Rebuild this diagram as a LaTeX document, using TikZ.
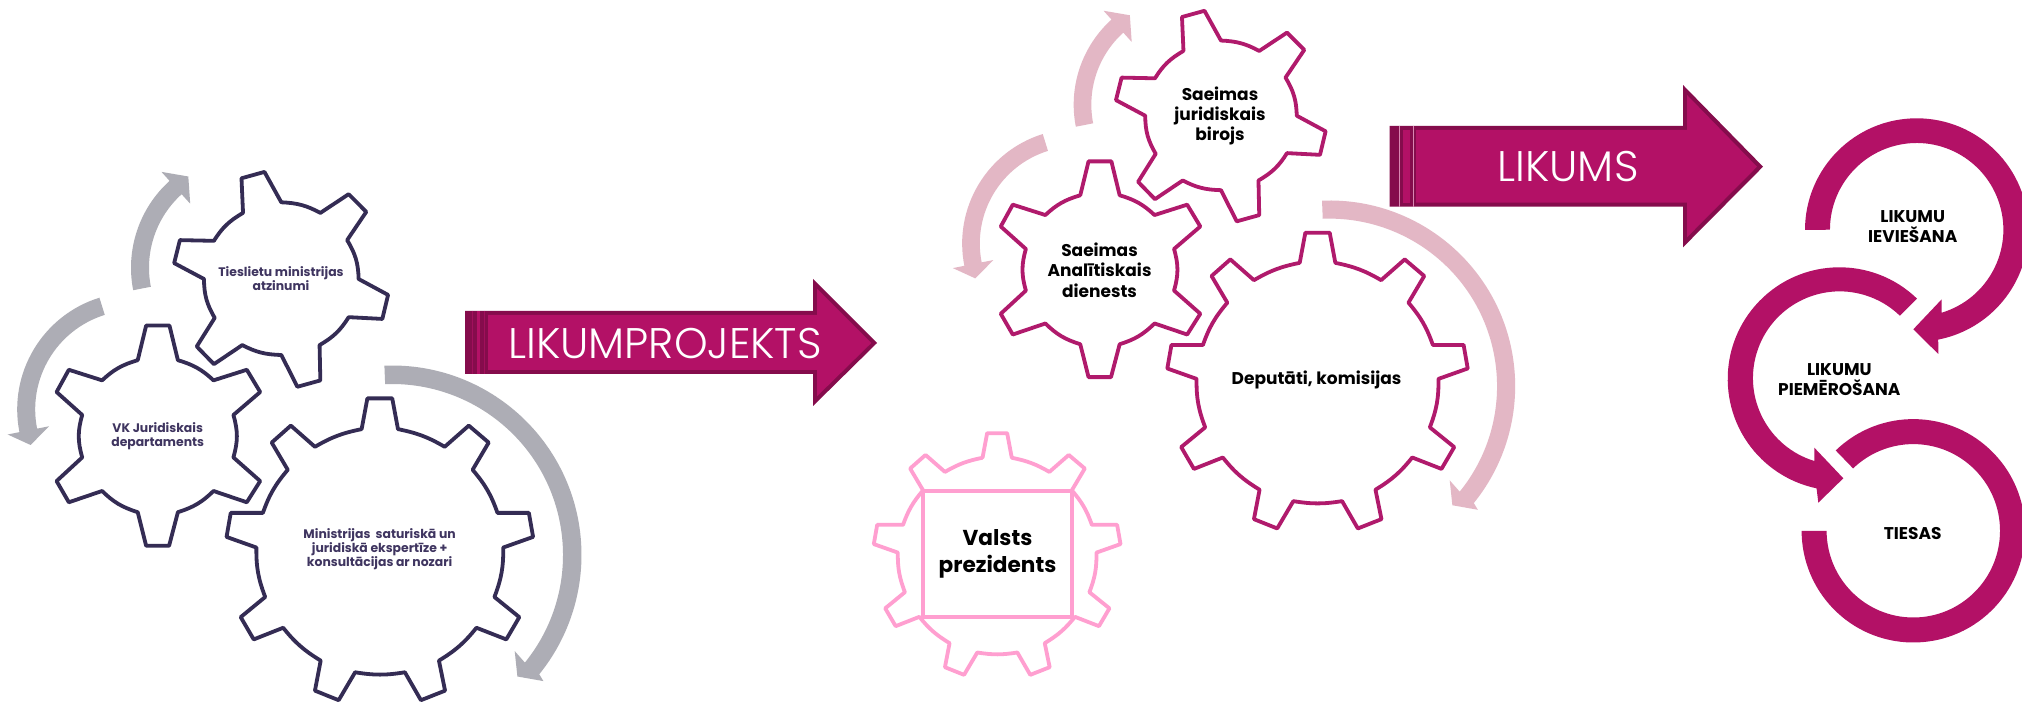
\documentclass[tikz,border=0pt]{standalone}
\usepackage{fontspec}
\setmainfont{Poppins}
\newfontfamily\lightf{Poppins Light}
\definecolor{navy}{HTML}{342C54}
\definecolor{navytext}{HTML}{3F3560}
\definecolor{greyarc}{HTML}{ADADB5}
\definecolor{mag}{HTML}{B31166}
\definecolor{magdark}{HTML}{850C4C}
\definecolor{magline}{HTML}{B01A6C}
\definecolor{pinkarc}{HTML}{E3B7C5}
\definecolor{pinkgear}{HTML}{FF9FD0}
\tikzset{
 gearpath/.style={line width=1.9pt,line join=round,fill=none},
 lab/.style={align=center,font=\bfseries\fontsize{6.2}{7}\selectfont,text=navytext,inner sep=0pt},
 labb/.style={align=center,font=\bfseries\fontsize{8.5}{10.2}\selectfont,text=black,inner sep=0pt},
 labc/.style={align=center,font=\bfseries\fontsize{10.8}{13.2}\selectfont,text=black,inner sep=0pt},
 labr/.style={align=center,font=\bfseries\fontsize{8.5}{10}\selectfont,text=black,inner sep=0pt},
 banner/.style={font=\lightf\fontsize{21.4}{21.4}\selectfont,text=white,inner sep=0pt},
 gsc/.style={xscale=.3827,yscale=.3534}
}
\newcommand{\gearA}{(-53,-215) -- (-31,-313) -- (30,-313) -- (52,-215)
 to[bend left=14] (145,-158) -- (232,-188) -- (267,-125) -- (197,-60)
 to[bend left=15] (197,60) -- (267,127) -- (232,187) -- (145,155)
 to[bend left=14] (52,215) -- (29,310) -- (-31,310) -- (-53,215)
 to[bend left=14] (-146,155) -- (-233,187) -- (-265,127) -- (-198,60)
 to[bend left=15] (-198,-60) -- (-265,-125) -- (-233,-188) -- (-146,-158)
 to[bend left=14] cycle}
\newcommand{\gearB}{(-100,-187) -- (-104,-285) -- (-44,-303) -- (0,-217)
 to[bend left=14] (102,-187) -- (176,-240) -- (222,-190) -- (172,-110)
 to[bend left=14] (202,0) -- (279,45) -- (264,113) -- (176,108)
 to[bend left=14] (100,187) -- (102,287) -- (42,305) -- (0,215)
 to[bend left=14] (-102,187) -- (-176,241) -- (-221,191) -- (-174,110)
 to[bend left=14] (-202,0) -- (-280,-45) -- (-265,-110) -- (-176,-108)
 to[bend left=14] cycle}
\newcommand{\gearC}{(-48,-340) -- (-33,-427) -- (32,-427) -- (47,-340)
 to[bend left=10] (169,-290) -- (232,-350) -- (284,-302) -- (242,-225)
 to[bend left=10] (307,-103) -- (389,-103) -- (400,-35) -- (322,-5)
 to[bend left=10] (299,135) -- (364,192) -- (330,255) -- (252,222)
 to[bend left=10] (154,315) -- (170,400) -- (107,427) -- (65,348)
 to[bend left=10] (-65,348) -- (-108,427) -- (-170,400) -- (-155,315)
 to[bend left=10] (-253,222) -- (-330,255) -- (-364,192) -- (-300,135)
 to[bend left=10] (-323,-5) -- (-401,-35) -- (-390,-103) -- (-306,-103)
 to[bend left=10] (-241,-225) -- (-283,-302) -- (-233,-350) -- (-170,-290)
 to[bend left=10] cycle}
\newcommand{\ringarrow}[8]{%
 \fill[#1] ({#2+#6*cos(#4)},{#3+#6*sin(#4)}) arc[start angle=#4,end angle=#5,radius=#6]
  -- #8 -- ({#2+#7*cos(#5)},{#3+#7*sin(#5)}) arc[start angle=#5,end angle=#4,radius=#7] -- cycle;}
\newcommand{\gearset}[2]{%
 \draw[gearpath,draw=#1,shift={(158,436.2)},gsc] \gearA;
 \draw[gearpath,draw=#1,shift={(281.3,279)},gsc] \gearB;
 \draw[gearpath,draw=#1,shift={(380,549.3)},gsc] \gearC;
 \ringarrow{#2}{392}{555}{-92.3}{39}{189.5}{171}{(543.4,681.1) -- (517.4,676.5) -- (514.7,651.1)}
 \ringarrow{#2}{134.2}{409.4}{252.7}{168.8}{117}{99}{(7.7,434.5) -- (30.6,445) -- (49,426.3)}
 \ringarrow{#2}{248}{267.7}{168.9}{227.9}{117}{99}{(161.5,171.9) -- (188.3,176.5) -- (190.2,203.7)}
}
\begin{document}
\begin{tikzpicture}[x=.5pt,y=-.5pt]
\path[use as bounding box,clip] (0,0) rectangle (2022,704);
\fill[white] (0,0) rectangle (2022,704);

% left group
\gearset{navy}{greyarc}
\node[lab] (tm) at (281,279) {Tieslietu ministrijas\\atzinumi};
\node[lab] (vk) at (157.7,436) {VK Juridiskais\\departaments};
\node[lab] (mi) at (379.6,549) {Ministrijas\ \ saturiskā un\\juridiskā ekspertīze +\\konsultācijas ar nozari};

% first banner
\fill[magdark] (465,311) -- (813,311) -- (813,279) -- (877,343) -- (813,406) -- (813,374) -- (465,374) -- cycle;
\fill[mag] (488,315) -- (817,315) -- (817,288.7) -- (871.3,343) -- (817,396.3) -- (817,370) -- (488,370) -- cycle;
\fill[mag] (476.7,311) rectangle (480,374);
\draw[mag!60!magdark,line width=.3pt] (472.7,311) -- (472.7,374) (484,311) -- (484,374);
\node[banner] (lp) at (665,343.7) {LIKUMPROJEKTS};

% middle group
\begin{scope}[shift={(945.3,-157.7)},scale=.98]
\gearset{magline}{pinkarc}
\end{scope}
\node[labb] (sj) at (1220,116) {Saeimas\\juridiskais\\birojs};
\node[labb] (sa) at (1099.5,270) {Saeimas\\Analītiskais\\dienests};
\node[labb] (de) at (1316.5,380) {Deputāti, komisijas};

% president
\draw[gearpath,draw=pinkgear,shift={(997.3,554)},xscale=.308,yscale=.283] \gearC;
\node[labc,draw=pinkgear,line width=1.9pt,fill=white,minimum width=74.2pt,minimum height=63pt] (vp) at (997.5,553.7) {Valsts\\prezidents};

% second banner
\fill[magdark] (1389.6,126) -- (1683,126) -- (1683,85) -- (1763,166.7) -- (1683,247.3) -- (1683,206.7) -- (1389.6,206.7) -- cycle;
\fill[mag] (1416,130) -- (1687,130) -- (1687,95) -- (1757,166.7) -- (1687,237.3) -- (1687,202.7) -- (1416,202.7) -- cycle;
\fill[mag] (1403,130) rectangle (1409.8,202.7);
\draw[mag!50!white,line width=.3pt] (1398.8,126) -- (1398.8,206.7) (1413.6,126) -- (1413.6,206.7);
\node[banner] (lk) at (1568,166.7) {LIKUMS};

% right rings
\fill[mag] ({1916.7+111.7*cos(180)},{230+111.7*sin(180)}) arc[start angle=180,end angle=438.9,radius=111.7]
  -- (1938.3,354) -- (1913.3,329.3) -- (1941.7,299.3) -- (1941.7,312.7)
  arc[start angle=433.2,end angle=180,radius=86.7] -- cycle;
\fill[mag] ({1839.4+111.7*cos(314)},{379+111.7*sin(314)}) arc[start angle=314,end angle=101.8,radius=111.7]
  -- (1818.3,502.7) -- (1843.3,478.3) -- (1814.3,447.7) -- (1814.3,461)
  arc[start angle=107,end angle=314,radius=86.7] -- cycle;
\fill[mag] ({1913.3+111.7*cos(226)},{530.8+111.7*sin(226)}) arc[start angle=226,end angle=540,radius=111.7]
  -- ({1913.3+86.7*cos(540)},{530.8+86.7*sin(540)}) arc[start angle=540,end angle=226,radius=86.7] -- cycle;
\node[labr] (r1) at (1912.7,226.7) {LIKUMU\\IEVIEŠANA};
\node[labr] (r2) at (1839.3,379.3) {LIKUMU\\PIEMĒROŠANA};
\node[labr] (r3) at (1912.7,533.3) {TIESAS};
\end{tikzpicture}
\end{document}
